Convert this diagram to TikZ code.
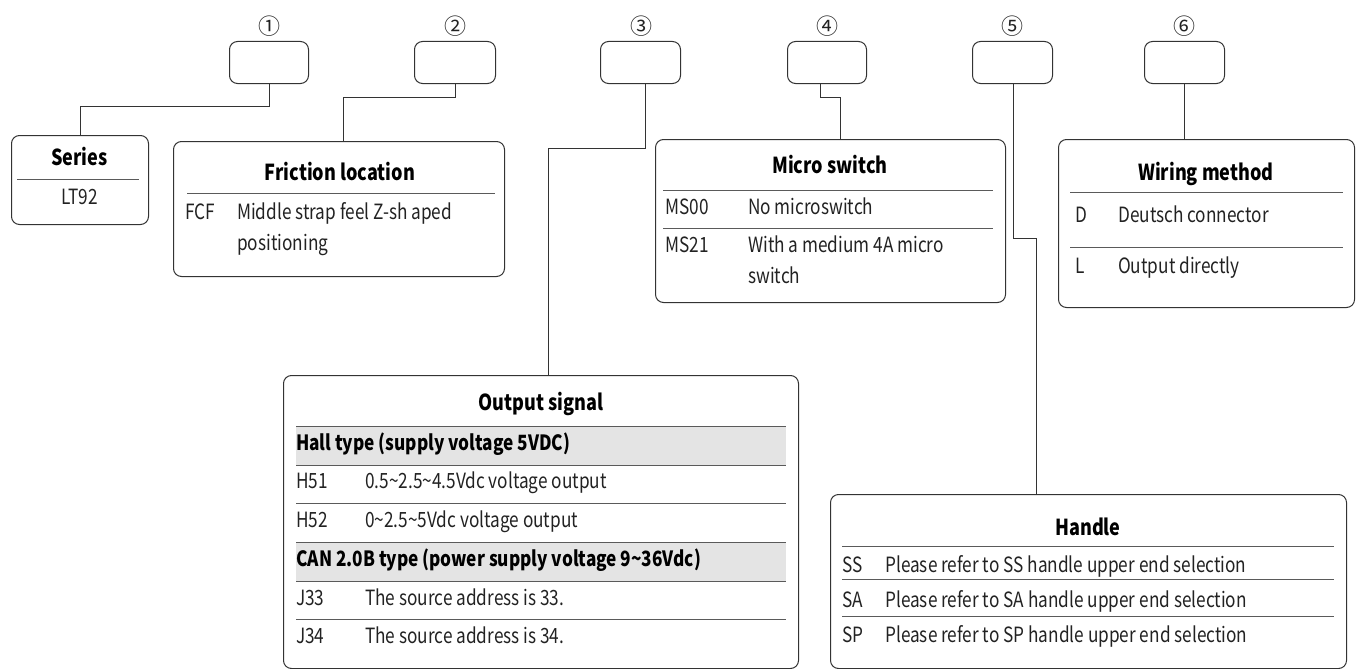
\documentclass[tikz,border=0pt]{standalone}
\usepackage{fontspec}
\setmainfont{Noto Sans CJK SC}[FakeStretch=0.82]
\newfontfamily\numfont{Noto Sans CJK SC}
\definecolor{boxline}{HTML}{333333}
\definecolor{sepline}{HTML}{5A5A5A}
\definecolor{band}{HTML}{E4E4E4}
\definecolor{txtcol}{HTML}{222222}
\tikzset{
  conn/.style={draw=boxline, line width=1pt},
  rbox/.style={draw=boxline, line width=1pt, rounded corners=8pt, anchor=north west, inner sep=0pt},
  sepl/.style={draw=sepline, line width=1pt},
  num/.style={font=\numfont\fontsize{22}{24}\selectfont, inner sep=0pt, text=txtcol},
  ttl/.style={font=\bfseries\fontsize{22}{24}\selectfont, inner sep=0pt, text height=16pt, text depth=5pt, text=black},
  txt/.style={font=\fontsize{21}{24}\selectfont, inner sep=0pt, anchor=west, text height=15pt, text depth=4pt, text=txtcol},
  btxt/.style={font=\bfseries\fontsize{21}{24}\selectfont, inner sep=0pt, anchor=west, text height=15pt, text depth=4pt, text=black},
  ctxt/.style={font=\fontsize{21}{24}\selectfont, inner sep=0pt, text height=15pt, text depth=4pt, text=txtcol},
}
\begin{document}
\begin{tikzpicture}[x=1pt,y=-1pt]
\useasboundingbox (0,0) rectangle (1357,669);
% top code boxes
\node[rbox, minimum width=79pt, minimum height=42pt] (b1) at (229,41) {};
\node[rbox, minimum width=81pt, minimum height=42pt] (b2) at (414,41) {};
\node[rbox, minimum width=80pt, minimum height=42pt] (b3) at (600,41) {};
\node[rbox, minimum width=79pt, minimum height=42pt] (b4) at (787,41) {};
\node[rbox, minimum width=80pt, minimum height=42pt] (b5) at (972,41) {};
\node[rbox, minimum width=80pt, minimum height=42pt] (b6) at (1144,41) {};
\node[num] (n1) at (269,26) {①};
\node[num] (n2) at (455,26) {②};
\node[num] (n3) at (641,26) {③};
\node[num] (n4) at (827,26) {④};
\node[num] (n5) at (1012,26) {⑤};
\node[num] (n6) at (1184,26) {⑥};
% description boxes
\node[rbox, minimum width=137pt, minimum height=89pt] (ser) at (11,135) {};
\node[rbox, minimum width=331pt, minimum height=135pt] (fri) at (173,141) {};
\node[rbox, minimum width=350pt, minimum height=163pt] (mic) at (655,139) {};
\node[rbox, minimum width=296pt, minimum height=168pt] (wir) at (1058,139) {};
\node[rbox, minimum width=515pt, minimum height=293pt] (out) at (283,375) {};
\node[rbox, minimum width=516pt, minimum height=174pt] (han) at (830,494) {};
% connectors
\draw[conn] ([xshift=0.5pt]b1.south) -- ++(0,22) -| (ser.north);
\draw[conn] (b2.south) -- ++(0,13) -| ([xshift=170pt]fri.north west);
\draw[conn] ([xshift=5pt]b3.south) -- ++(0,64) -| ([xshift=265pt]out.north west);
\draw[conn] ([xshift=-6.5pt]b4.south) -- ++(0,13) -| ([xshift=185pt]mic.north west);
\draw[conn] ([xshift=1pt]b5.south) -- ++(0,154) -| ([xshift=206pt]han.north west);
\draw[conn] (b6.south) -- (wir.north -| b6.south);
% Series
\node[ttl] (serT) at (79.5,160) {Series};
\draw[sepl] (17,179) -- (139,179);
\node[ctxt] (serV) at (79.5,199) {LT92};
% Friction
\node[ttl] (friT) at (340,175) {Friction location};
\draw[sepl] (187,193) -- (495,193);
\node[txt] (friC) at (185,214) {FCF};
\node[txt] (friD) at (237,214) {Middle strap feel Z-sh aped};
\node[txt] (friD2) at (237,245) {positioning};
% Micro switch
\node[ttl] (micT) at (830,168) {Micro switch};
\draw[sepl] (663,190) -- (993,190);
\node[txt] (micC1) at (665,209) {MS00};
\node[txt] (micD1) at (748,209) {No microswitch};
\draw[sepl] (663,228) -- (993,228);
\node[txt] (micC2) at (665,247) {MS21};
\node[txt] (micD2) at (748,247) {With a medium 4A micro};
\node[txt] (micD3) at (748,278) {switch};
% Wiring method
\node[ttl] (wirT) at (1206,175) {Wiring method};
\draw[sepl] (1070,192) -- (1343,192);
\node[txt] (wirC1) at (1075,217) {D};
\node[txt] (wirD1) at (1118,217) {Deutsch connector};
\draw[sepl] (1070,247) -- (1343,247);
\node[txt] (wirC2) at (1075,268) {L};
\node[txt] (wirD2) at (1118,268) {Output directly};
% Output signal
\fill[band] (296,426) rectangle (786,465);
\fill[band] (296,542) rectangle (786,581);
\node[ttl] (outT) at (541,405) {Output signal};
\foreach \yy in {426,465,503,542,581,619} \draw[sepl] (296,\yy) -- (786,\yy);
\node[btxt] (outH) at (296,445) {Hall type (supply voltage 5VDC)};
\node[txt] (outC1) at (296,483) {H51};
\node[txt] (outD1) at (365,483) {0.5\textasciitilde 2.5\textasciitilde 4.5Vdc voltage output};
\node[txt] (outC2) at (296,522) {H52};
\node[txt] (outD2) at (365,522) {0\textasciitilde 2.5\textasciitilde 5Vdc voltage output};
\node[btxt] (outK) at (296,561) {CAN 2.0B type (power supply voltage 9\textasciitilde 36Vdc)};
\node[txt] (outC3) at (296,600) {J33};
\node[txt] (outD3) at (365,600) {The source address is 33.};
\node[txt] (outC4) at (296,638) {J34};
\node[txt] (outD4) at (365,638) {The source address is 34.};
% Handle
\node[ttl] (hanT) at (1088,530) {Handle};
\foreach \yy in {546,579,616} \draw[sepl] (842,\yy) -- (1334,\yy);
\node[txt] (hanC1) at (842,567) {SS};
\node[txt] (hanD1) at (885,567) {Please refer to SS handle upper end selection};
\node[txt] (hanC2) at (842,602) {SA};
\node[txt] (hanD2) at (885,602) {Please refer to SA handle upper end selection};
\node[txt] (hanC3) at (842,637) {SP};
\node[txt] (hanD3) at (885,637) {Please refer to SP handle upper end selection};
\end{tikzpicture}
\end{document}
